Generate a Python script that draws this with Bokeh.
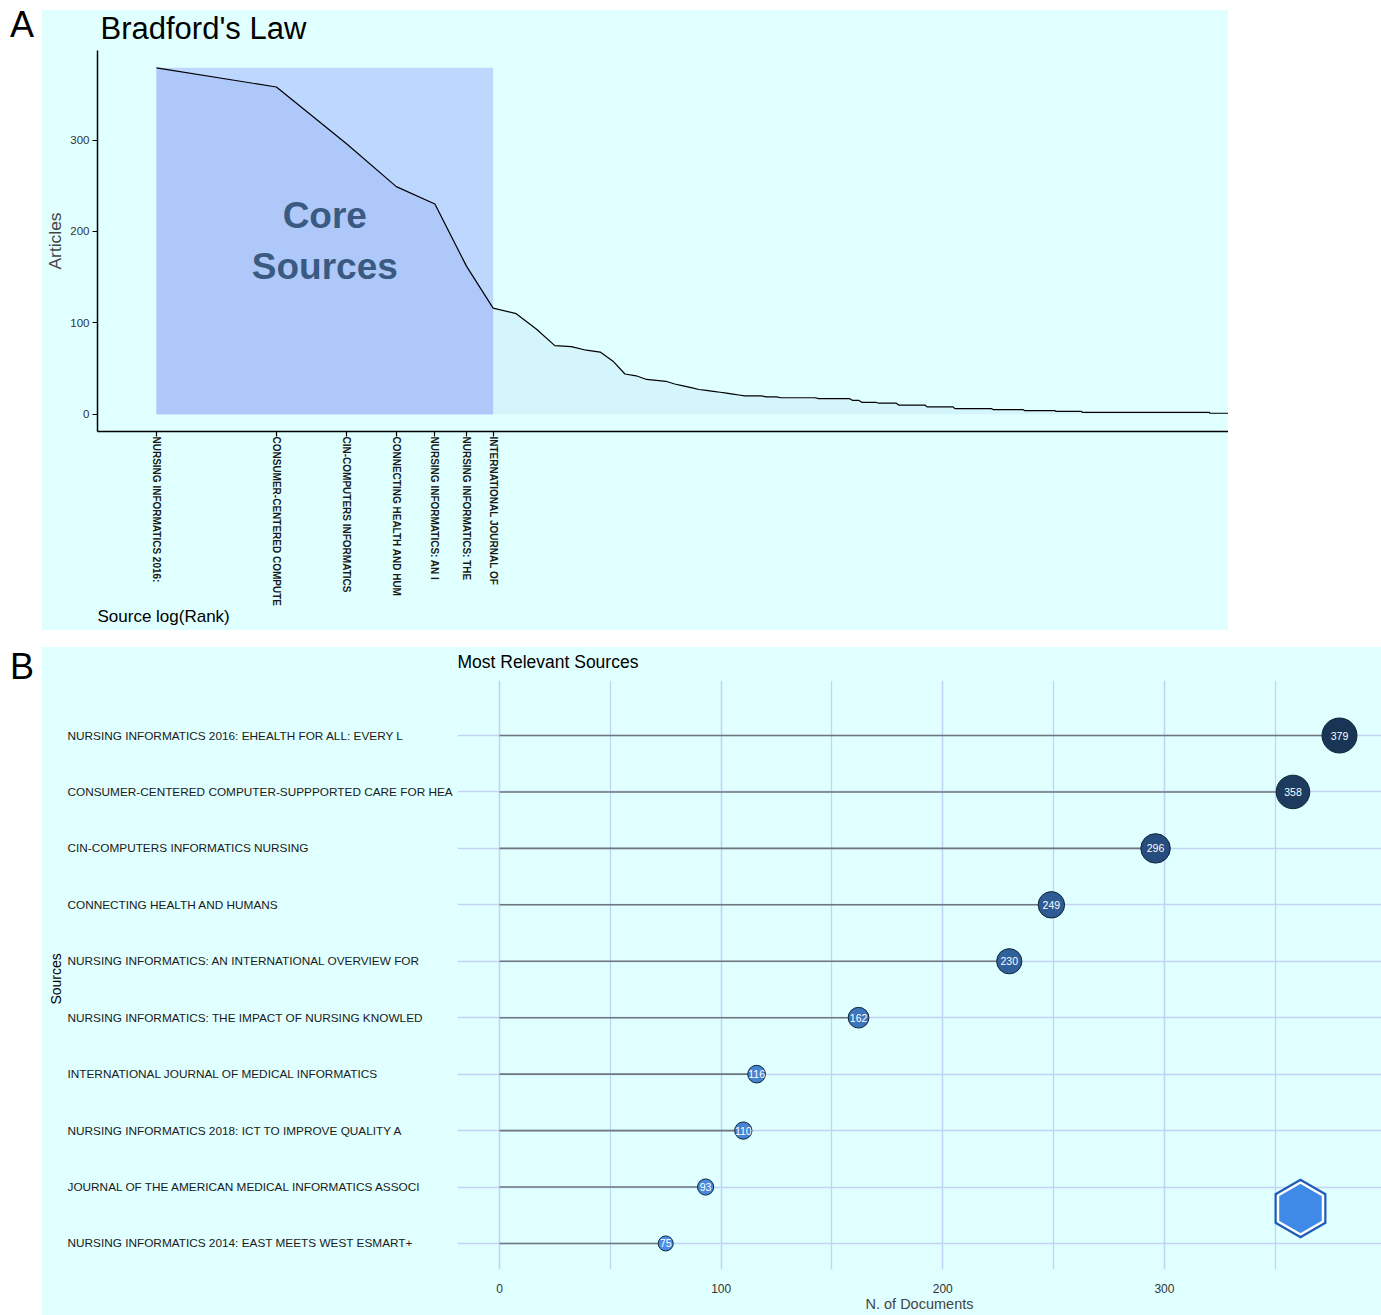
import numpy as np
from bokeh.plotting import figure
from bokeh.models import (Range1d, FixedTicker, CustomJSTickFormatter,
                          SingleIntervalTicker, Div, Spacer)
from bokeh.layouts import column, row
from bokeh.embed import file_html
from bokeh.resources import INLINE
from bokeh.core.properties import value

FONT = "Liberation Sans"
BG = "#E0FFFF"
BGSTYLE = {"background-color": BG}

# ---------------- data ----------------
sources = [
    "NURSING INFORMATICS 2016: EHEALTH FOR ALL: EVERY L",
    "CONSUMER-CENTERED COMPUTER-SUPPPORTED CARE FOR HEA",
    "CIN-COMPUTERS INFORMATICS NURSING",
    "CONNECTING HEALTH AND HUMANS",
    "NURSING INFORMATICS: AN INTERNATIONAL OVERVIEW FOR",
    "NURSING INFORMATICS: THE IMPACT OF NURSING KNOWLED",
    "INTERNATIONAL JOURNAL OF MEDICAL INFORMATICS",
    "NURSING INFORMATICS 2018: ICT TO IMPROVE QUALITY A",
    "JOURNAL OF THE AMERICAN MEDICAL INFORMATICS ASSOCI",
    "NURSING INFORMATICS 2014: EAST MEETS WEST ESMART+",
]
documents = [379, 358, 296, 249, 230, 162, 116, 110, 93, 75]

# Bradford: articles of sources ranked 11..29, then the tail as (articles, number of sources)
next_ranked = [74, 70, 68, 58, 44, 42, 38, 37, 36, 33, 31, 29, 27, 26, 25, 24, 23, 22, 21]
tail_articles = [20, 19, 18, 17, 15, 13, 12, 10, 8, 6, 5, 4, 3, 2, 1]
tail_sources = [4, 3, 9, 10, 3, 6, 8, 13, 15, 25, 25, 30, 30, 230, 476]

articles = np.array(documents + next_ranked + list(np.repeat(tail_articles, tail_sources)), dtype=float)
rank = np.arange(1, len(articles) + 1)
logr = np.log(rank)
core_n = int(np.argmax(np.cumsum(articles) >= articles.sum() / 3) + 1)
labelsA = [s[:25] for s in sources[:core_n]]


def blank(fig):
    fig.background_fill_color = BG
    fig.border_fill_color = BG
    fig.outline_line_color = None


def strip(width, height, left):
    s = figure(width=width, height=height, output_backend="svg", toolbar_location=None,
               x_range=Range1d(0, width - left), y_range=Range1d(0, height),
               min_border_left=left, min_border_right=0, min_border_top=0, min_border_bottom=0)
    blank(s)
    s.axis.visible = False
    s.grid.visible = False
    return s


# ---------------- panel A ----------------
LEFT_A, WA = 55, 1186

tA = strip(WA, 40, LEFT_A)
tA.text(x=[3], y=[22.5], text=["Bradford's Law"], text_font=value(FONT), text_font_size="31px",
        text_color="black", text_align="left", text_baseline="middle")

pA = figure(width=WA, height=558, output_backend="svg", toolbar_location=None,
            x_range=Range1d(-0.341, 6.197), y_range=Range1d(-18.95, 397.95),
            min_border_left=LEFT_A, min_border_right=0, min_border_top=0, min_border_bottom=177)
blank(pA)
pA.grid.visible = False

pA.varea(x=logr, y1=0, y2=articles, fill_color="#D4F5FC")
pA.quad(left=0, right=np.log(core_n), bottom=0, top=articles.max(),
        fill_color="#BED7FE", line_color=None)
pA.varea(x=logr[:core_n], y1=0, y2=articles[:core_n], fill_color="#ADC8F9")
pA.line(logr, articles, line_color="black", line_width=1.2)
pA.text(x=[np.log(core_n) / 2], y=[articles.max() / 2], text=["Core\nSources"],
        text_font=value(FONT), text_font_style="bold", text_font_size="37px",
        text_color="#3a5a82", text_align="center", text_baseline="middle", text_line_height=1.25)

xa = pA.xaxis[0]
xa.ticker = FixedTicker(ticks=list(np.log(np.arange(1, core_n + 1))))
xa.formatter = CustomJSTickFormatter(args=dict(labels=labelsA), code="""
const i = Math.round(Math.exp(tick)) - 1;
return (i >= 0 && i < labels.length) ? labels[i] : '';
""")
xa.major_label_orientation = "vertical"
xa.major_label_text_font = FONT
xa.major_label_text_font_style = "bold"
xa.major_label_text_font_size = "10px"
xa.major_label_text_color = "#1a1a1a"
xa.major_label_standoff = 0
xa.major_tick_out = 5
xa.major_tick_in = 0
xa.minor_tick_line_color = None
xa.axis_line_width = 1.5
xa.major_tick_line_width = 1.2

ya = pA.yaxis[0]
ya.ticker = FixedTicker(ticks=[0, 100, 200, 300])
ya.major_label_text_font = FONT
ya.major_label_text_font_size = "11.5px"
ya.major_label_text_color = "#333333"
ya.major_label_standoff = 3
ya.major_tick_out = 5
ya.major_tick_in = 0
ya.minor_tick_line_color = None
ya.axis_line_width = 1.5
ya.major_tick_line_width = 1.2
ya.axis_label = "Articles"
ya.axis_label_text_font = FONT
ya.axis_label_text_font_style = "normal"
ya.axis_label_text_font_size = "17.4px"
ya.axis_label_standoff = 2

sA = strip(WA, 22, LEFT_A)
sA.text(x=[0], y=[14], text=["Source log(Rank)"], text_font=value(FONT),
        text_font_size="17px", text_color="black", text_align="left", text_baseline="middle")

# ---------------- panel B ----------------
n = len(sources)
pos = np.arange(n, 0, -1).astype(float)
dmin, dmax = min(documents), max(documents)
sizes = [15 + 20 * (d - dmin) / (dmax - dmin) for d in documents]


def mix(c1, c2, t):
    a = np.array([int(c1[i:i + 2], 16) for i in (1, 3, 5)])
    b = np.array([int(c2[i:i + 2], 16) for i in (1, 3, 5)])
    c = np.round(a + (b - a) * t).astype(int)
    return "#%02x%02x%02x" % tuple(c)


colors = [mix("#4b8ee6", "#183555", (d - dmin) / (dmax - dmin)) for d in documents]

HB, TOPB, BOTB, WB = 668, 33, 46, 924
STEP, TOPPAD = 56.44, 55.0                     # px per category, px above the first category
frame_h = HB - TOPB - BOTB
yrB = Range1d(1 - ((frame_h - TOPPAD) / STEP - (n - 1)), n + TOPPAD / STEP)

tB = strip(WB, TOPB, 0)
tB.text(x=[0], y=[19], text=["Most Relevant Sources"], text_font=value(FONT), text_font_size="17.5px",
        text_color="black", text_align="left", text_baseline="middle")

pB = figure(width=WB, height=HB - TOPB, output_backend="svg", toolbar_location=None,
            x_range=Range1d(-0.05 * dmax, 1.05 * dmax), y_range=yrB,
            min_border_left=0, min_border_right=0, min_border_top=0, min_border_bottom=BOTB)
blank(pB)
pB.yaxis.visible = False

GRID = "#C3D3F5"
xt = SingleIntervalTicker(interval=100, num_minor_ticks=2)
pB.xaxis.ticker = xt
pB.xgrid.ticker = xt
pB.xgrid.grid_line_color = GRID
pB.xgrid.minor_grid_line_color = GRID
pB.xgrid.grid_line_width = 1.3
pB.xgrid.minor_grid_line_width = 1.3
pB.ygrid.ticker = FixedTicker(ticks=list(pos))
pB.ygrid.grid_line_color = GRID
pB.ygrid.grid_line_width = 1.3

xb = pB.xaxis[0]
xb.axis_line_color = None
xb.major_tick_line_color = None
xb.minor_tick_line_color = None
xb.major_label_text_font = FONT
xb.major_label_text_font_size = "12px"
xb.major_label_text_color = "#333333"
xb.major_label_standoff = 8
xb.axis_label = "N. of Documents"
xb.axis_label_text_font = FONT
xb.axis_label_text_font_style = "normal"
xb.axis_label_text_font_size = "14.5px"
xb.axis_label_standoff = 0

pB.segment(x0=0, y0=pos, x1=documents, y1=pos, line_color="#6e767e", line_width=1.6)
pB.scatter(x=documents, y=pos, size=sizes, fill_color=colors, line_color="#0f2438", line_width=1)
pB.text(x=documents, y=pos, text=[str(d) for d in documents], text_font=value(FONT),
        text_font_size="10.5px", text_color="white", text_align="center", text_baseline="middle")

# logo (decoration)
pB.scatter(x=[361.4], y=[1.62], marker="hex", angle=np.pi / 2, size=60,
           fill_color="#1f5cb8", line_color=None)
pB.scatter(x=[361.4], y=[1.62], marker="hex", angle=np.pi / 2, size=52,
           fill_color="#3f8ae6", line_color="white", line_width=2.5)

# left strip of panel B holding the left-aligned source names and the y title
pL = figure(width=415, height=HB, output_backend="svg", toolbar_location=None,
            x_range=Range1d(0, 415), y_range=yrB,
            min_border_left=0, min_border_right=0, min_border_top=TOPB, min_border_bottom=BOTB)
blank(pL)
pL.axis.visible = False
pL.grid.visible = False
pL.text(x=[25] * n, y=pos, text=sources, text_font=value(FONT), text_font_size="11.8px",
        text_color="#1a1a1a", text_align="left", text_baseline="middle")
pL.text(x=[13], y=[(n + 1) / 2 + (TOPPAD / STEP - 0.6) / 2], text=["Sources"], angle=np.pi / 2,
        text_font=value(FONT), text_font_size="14px", text_color="black",
        text_align="center", text_baseline="middle")

letter = {"font-size": "36px", "line-height": "40px", "font-family": FONT,
          "padding-left": "10px", "color": "black"}
divA = Div(text="A", width=42, height=50, margin=0, styles=dict(letter, **{"padding-top": "5px"}))
divB = Div(text="B", width=42, height=50, margin=0, styles=letter)

panelA = column(tA, pA, sA, spacing=0, styles=BGSTYLE)
colA = column(Spacer(height=10, margin=0), panelA, spacing=0)
panelB = row(pL, column(tB, pB, spacing=0, styles=BGSTYLE), spacing=0, styles=BGSTYLE)
layout = column(row(divA, colA, spacing=0),
                Spacer(height=17, margin=0),
                row(divB, panelB, spacing=0),
                spacing=0)

open("out.html", "w").write(file_html(layout, INLINE))
